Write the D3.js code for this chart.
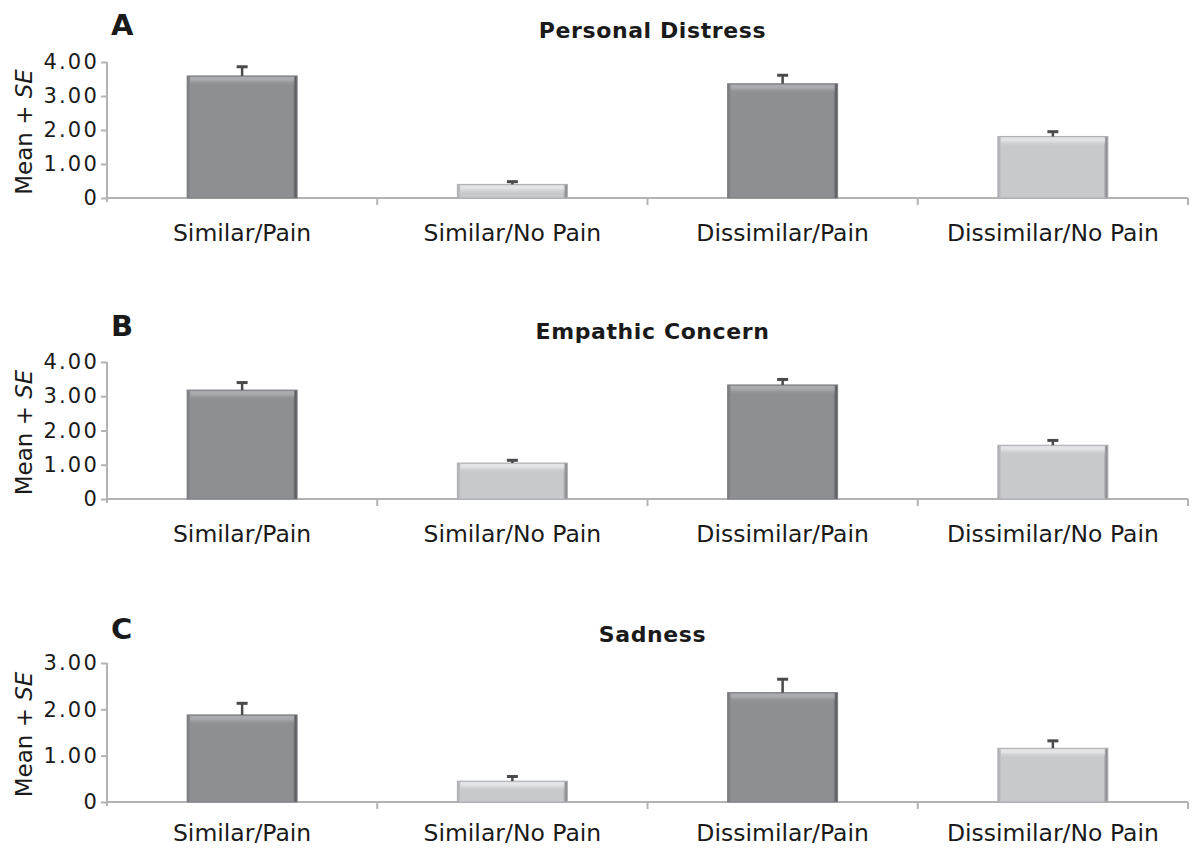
<!DOCTYPE html>
<html>
<head>
<meta charset="utf-8">
<script src="https://cdn.jsdelivr.net/npm/d3@7"></script>
<style>
  html, body { margin: 0; padding: 0; background: #fff; }
  svg { display: block; font-family: "DejaVu Sans", Verdana, sans-serif; }
</style>
</head>
<body>
<svg id="chart" width="1194" height="848"></svg>
<script>
// ---- data ----
const categories = ["Similar/Pain", "Similar/No Pain", "Dissimilar/Pain", "Dissimilar/No Pain"];
const painCondition = [true, false, true, false];

const panelLetters = ["A", "B", "C"];
const panelTitles = ["Personal Distress", "Empathic Concern", "Sadness"];

const distressMeans = [3.59, 0.40, 3.36, 1.81];
const distressSE    = [0.27, 0.08, 0.25, 0.14];

const concernMeans  = [3.18, 1.05, 3.33, 1.57];
const concernSE     = [0.22, 0.08, 0.16, 0.14];

const sadnessMeans  = [1.88, 0.45, 2.36, 1.16];
const sadnessSE     = [0.25, 0.10, 0.29, 0.16];

const ticks4 = [0, 1, 2, 3, 4];
const ticks3 = [0, 1, 2, 3];
const tickLabels4 = ["0", "1.00", "2.00", "3.00", "4.00"];
const tickLabels3 = ["0", "1.00", "2.00", "3.00"];

const panelMeans = [distressMeans, concernMeans, sadnessMeans];
const panelSE = [distressSE, concernSE, sadnessSE];
const panelTicks = [ticks4, ticks4, ticks3];
const panelTickLabels = [tickLabels4, tickLabels4, tickLabels3];

// ---- layout ----
const W = 1194, H = 848;
const layout = {
  left: 107, right: 1188,
  panels: [ {top: 62, bottom: 198}, {top: 362, bottom: 499}, {top: 663, bottom: 802} ]
};
const axisColor = "#b3b3b3";
const darkFill = "#8e8f93", lightFill = "#c8c9cb";

const svg = d3.select("#chart");
const defs = svg.append("defs");

function makeGradients(id, base, edgeL, edgeR, hi) {
  const h = defs.append("linearGradient").attr("id", id + "H")
    .attr("x1", "0").attr("x2", "1").attr("y1", "0").attr("y2", "0");
  h.append("stop").attr("offset", "0").attr("stop-color", edgeL);
  h.append("stop").attr("offset", "0.03").attr("stop-color", base);
  h.append("stop").attr("offset", "0.96").attr("stop-color", base);
  h.append("stop").attr("offset", "0.985").attr("stop-color", edgeR);
  h.append("stop").attr("offset", "1").attr("stop-color", edgeR);
  const v = defs.append("linearGradient").attr("id", id + "V")
    .attr("x1", "0").attr("x2", "0").attr("y1", "0").attr("y2", "1");
  v.append("stop").attr("offset", "0").attr("stop-color", hi).attr("stop-opacity", 1);
  v.append("stop").attr("offset", "0.35").attr("stop-color", hi).attr("stop-opacity", 0.9);
  v.append("stop").attr("offset", "1").attr("stop-color", base).attr("stop-opacity", 0);
}
makeGradients("dark", darkFill, "#76777b", "#5f6064", "#acadb0");
makeGradients("light", lightFill, "#a9aaad", "#8f9094", "#e4e5e6");

const x = d3.scaleBand().domain(categories).range([layout.left, layout.right])
  .paddingInner(0.593).paddingOuter(0.2965);

layout.panels.forEach((p, i) => {
  const means = panelMeans[i], se = panelSE[i], ticks = panelTicks[i];
  const yMax = d3.max(ticks);
  const y = d3.scaleLinear().domain([0, yMax]).range([p.bottom, p.top]);
  const g = svg.append("g");

  // letter and title
  g.append("text").attr("x", 111).attr("y", p.bottom - 163)
    .attr("font-size", 29).attr("font-weight", "bold").attr("fill", "#1a1a1a")
    .text(panelLetters[i]);
  g.append("text").attr("x", (layout.left + layout.right) / 2 + 5).attr("y", p.bottom - 160)
    .attr("text-anchor", "middle").attr("font-size", 22).attr("font-weight", "bold")
    .attr("letter-spacing", 0.6).attr("fill", "#1a1a1a")
    .text(panelTitles[i]);

  // y axis
  const yAxis = d3.axisLeft(y).tickValues(ticks)
    .tickFormat((d, k) => panelTickLabels[i][k]).tickSize(6).tickPadding(2);
  const ya = g.append("g").attr("transform", `translate(${layout.left},0)`).call(yAxis);
  ya.select(".domain").attr("stroke", axisColor).attr("stroke-width", 2)
    .attr("d", `M0,${p.top}V${p.bottom + 4}`);
  ya.selectAll(".tick line").attr("stroke", axisColor).attr("stroke-width", 2);
  ya.selectAll(".tick text").attr("font-size", 21).attr("letter-spacing", 2.2).attr("fill", "#1a1a1a")
    .attr("font-family", "DejaVu Sans, Verdana, sans-serif");

  // y label
  const yl = g.append("text")
    .attr("transform", `translate(32,${(p.top + p.bottom) / 2 + 2}) rotate(-90)`)
    .attr("text-anchor", "middle").attr("font-size", 23).attr("fill", "#1a1a1a");
  yl.append("tspan").text("Mean + ");
  yl.append("tspan").attr("font-style", "italic").text("SE");

  // x axis
  const boundaries = categories.map(c => x(c) - x.step() * x.paddingInner() / 2 + x.step());
  g.append("line").attr("x1", layout.left).attr("x2", layout.right)
    .attr("y1", p.bottom).attr("y2", p.bottom)
    .attr("stroke", axisColor).attr("stroke-width", 2);
  g.selectAll(".xtick").data(boundaries).join("line")
    .attr("x1", d => d).attr("x2", d => d)
    .attr("y1", p.bottom).attr("y2", p.bottom + 7)
    .attr("stroke", axisColor).attr("stroke-width", 2);
  g.selectAll(".xlabel").data(categories).join("text")
    .attr("x", d => x(d) + x.bandwidth() / 2).attr("y", Math.min(p.bottom + 43, H - 7))
    .attr("text-anchor", "middle").attr("font-size", 23.5).attr("fill", "#1a1a1a")
    .text(d => d);

  // bars
  const bars = g.selectAll(".bar").data(categories).join("g");
  bars.append("rect")
    .attr("x", d => x(d)).attr("width", x.bandwidth())
    .attr("y", (d, k) => y(means[k])).attr("height", (d, k) => y(0) - y(means[k]))
    .attr("fill", (d, k) => `url(#${painCondition[k] ? "dark" : "light"}H)`)
    .attr("stroke", (d, k) => painCondition[k] ? "#7d7e82" : "#aeafb2").attr("stroke-width", 1);
  bars.append("rect")
    .attr("x", d => x(d) + 3).attr("width", x.bandwidth() - 6)
    .attr("y", (d, k) => y(means[k]) + 1)
    .attr("height", (d, k) => Math.min(9, y(0) - y(means[k]) - 2))
    .attr("fill", (d, k) => `url(#${painCondition[k] ? "dark" : "light"}V)`);

  // error bars (upper only)
  const eb = g.selectAll(".err").data(categories).join("g");
  eb.append("line")
    .attr("x1", d => x(d) + x.bandwidth() / 2).attr("x2", d => x(d) + x.bandwidth() / 2)
    .attr("y1", (d, k) => y(means[k])).attr("y2", (d, k) => y(means[k] + se[k]))
    .attr("stroke", "#4a4a4c").attr("stroke-width", 2.5);
  eb.append("line")
    .attr("x1", d => x(d) + x.bandwidth() / 2 - 5.5).attr("x2", d => x(d) + x.bandwidth() / 2 + 5.5)
    .attr("y1", (d, k) => y(means[k] + se[k])).attr("y2", (d, k) => y(means[k] + se[k]))
    .attr("stroke", "#4a4a4c").attr("stroke-width", 3);
});
</script>
</body>
</html>
